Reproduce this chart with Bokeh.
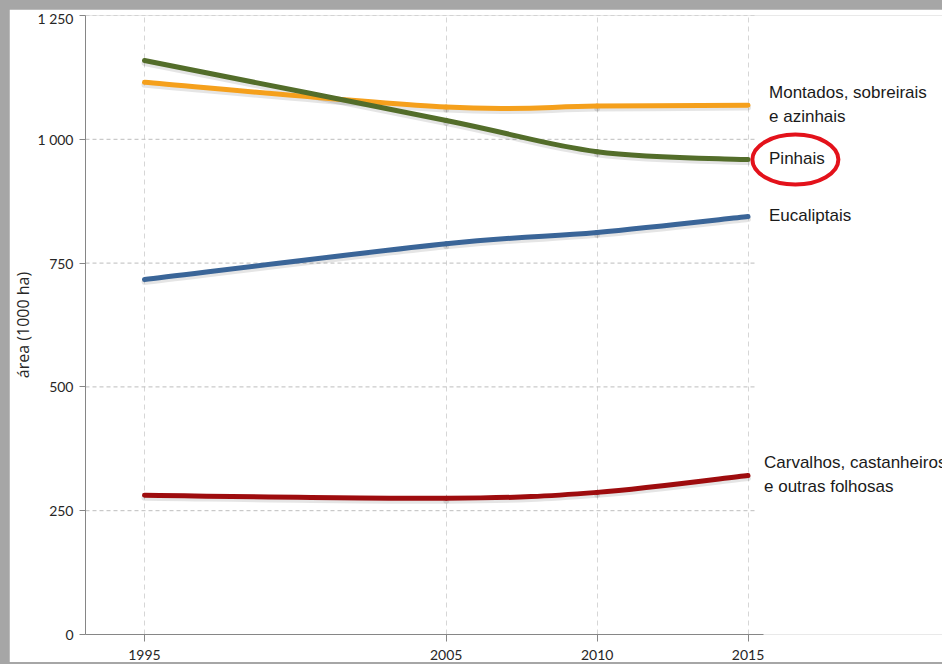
from bokeh.core.properties import value
from bokeh.embed import file_html
from bokeh.models import FixedTicker, Range1d
from bokeh.plotting import figure
from bokeh.resources import INLINE

# Forest area by main species group (thousand hectares)
years = [1995, 2005, 2010, 2015]
montados = [1115, 1065, 1067, 1069]
pinhais = [1159, 1038, 975, 959]
eucaliptais = [717, 789, 812, 844]
carvalhos = [281, 275, 287, 321]

series_labels = [
    "Montados, sobreirais\ne azinhais",
    "Pinhais",
    "Eucaliptais",
    "Carvalhos, castanheiros\ne outras folhosas",
]
series_colors = ["#f5a01c", "#536d2a", "#3a6598", "#9e0c0e"]

y_ticks = [0, 250, 500, 750, 1000, 1250]
y_tick_labels = ["0", "250", "500", "750", "1 000", "1 250"]

LABEL_FONT = "Liberation Sans"
TICK_FONT = "Lato"

x_start, x_end = 1993.045, 2021.445


def smooth(xs, ys):
    """Catmull-Rom style cubic Bezier pieces through the given points."""
    n = len(xs)
    px = [xs[0]] + list(xs) + [xs[-1]]
    py = [ys[0]] + list(ys) + [ys[-1]]
    out = dict(x0=[], y0=[], x1=[], y1=[], cx0=[], cy0=[], cx1=[], cy1=[])
    for i in range(1, n):
        out["x0"].append(px[i]); out["y0"].append(py[i])
        out["x1"].append(px[i + 1]); out["y1"].append(py[i + 1])
        out["cx0"].append(px[i] + (px[i + 1] - px[i - 1]) / 6)
        out["cy0"].append(py[i] + (py[i + 1] - py[i - 1]) / 6)
        out["cx1"].append(px[i + 1] - (px[i + 2] - px[i]) / 6)
        out["cy1"].append(py[i + 1] - (py[i + 2] - py[i]) / 6)
    return out


p = figure(
    frame_width=857, frame_height=619,
    min_border_left=76, min_border_right=0, min_border_top=6, min_border_bottom=28,
    x_range=Range1d(x_start, x_end), y_range=Range1d(0, 1250),
    output_backend="svg", toolbar_location=None,
    background_fill_color="white", border_fill_color="white",
)
p.margin = (9, 0, 0, 9)
p.outline_line_color = None

# axes
p.xaxis.ticker = FixedTicker(ticks=years)
p.xaxis.bounds = (x_start, years[-1] + 0.5)
p.yaxis.ticker = FixedTicker(ticks=y_ticks)
p.yaxis.major_label_overrides = dict(zip(y_ticks, y_tick_labels))
for ax in (p.xaxis, p.yaxis):
    ax.axis_line_color = "#868686"
    ax.major_tick_line_color = "#868686"
    ax.minor_tick_line_color = None
    ax.major_tick_in = 0
    ax.major_label_text_font = TICK_FONT
    ax.major_label_text_font_size = "14px"
    ax.major_label_text_color = "#262626"
p.xaxis.major_tick_out = 7
p.xaxis.major_label_standoff = 8
p.yaxis.major_tick_out = 6
p.yaxis.major_label_standoff = 6
p.yaxis.axis_label = "área (1000 ha)"
p.yaxis.axis_label_text_font = "Open Sans"
p.yaxis.axis_label_text_font_size = "16px"
p.yaxis.axis_label_text_font_style = "normal"
p.yaxis.axis_label_text_color = "#262626"
p.yaxis.axis_label_standoff = 0

# grid: vertical dashes at the years, horizontal dashes stop at the last year
p.xgrid.ticker = FixedTicker(ticks=years)
p.xgrid.grid_line_color = "#d6d6d6"
p.xgrid.grid_line_dash = "5 4"
p.ygrid.grid_line_color = None
p.segment(
    x0=[x_start] * (len(y_ticks) - 1), x1=[years[-1] + 0.25] * (len(y_ticks) - 1),
    y0=y_ticks[1:], y1=y_ticks[1:],
    line_color="#bdbdbd", line_width=1, line_dash="4 3",
)

all_series = [montados, pinhais, eucaliptais, carvalhos]

# soft shadows under the curves
for vals in all_series:
    seg = smooth(years, [v - 5 for v in vals])
    p.bezier(source=seg, x0="x0", y0="y0", x1="x1", y1="y1",
             cx0="cx0", cy0="cy0", cx1="cx1", cy1="cy1",
             line_color="black", line_alpha=0.1, line_width=6, line_cap="round")

# the smoothed series
for vals, col in zip(all_series, series_colors):
    seg = smooth(years, vals)
    p.bezier(source=seg, x0="x0", y0="y0", x1="x1", y1="y1",
             cx0="cx0", cy0="cy0", cx1="cx1", cy1="cy1",
             line_color=col, line_width=5, line_cap="round")

# end labels
offsets = [21, 21, 21, 16]
for vals, lab, off in zip(all_series, series_labels, offsets):
    p.text(x=[years[-1]], y=[vals[-1]], text=[lab], x_offset=off, y_offset=-1,
           text_baseline="middle", text_align="left",
           text_font=value(LABEL_FONT), text_font_size="17px",
           text_color="#1a1a1a", text_line_height=1.25)

# highlight ring around "Pinhais"
p.ellipse(x=[years[-1] + 1.57], y=[pinhais[-1]], width=86, height=50,
          width_units="screen", height_units="screen",
          fill_color=None, line_color="#e3121b", line_width=4)

html = file_html(p, INLINE)
cut = html.rfind("</head>")
head, body = html[:cut], html[cut:]
body = body.replace("<body>", '<body style="margin:0;background:#a6a6a6;overflow:hidden">', 1)
open("out.html", "w").write(head + body)
